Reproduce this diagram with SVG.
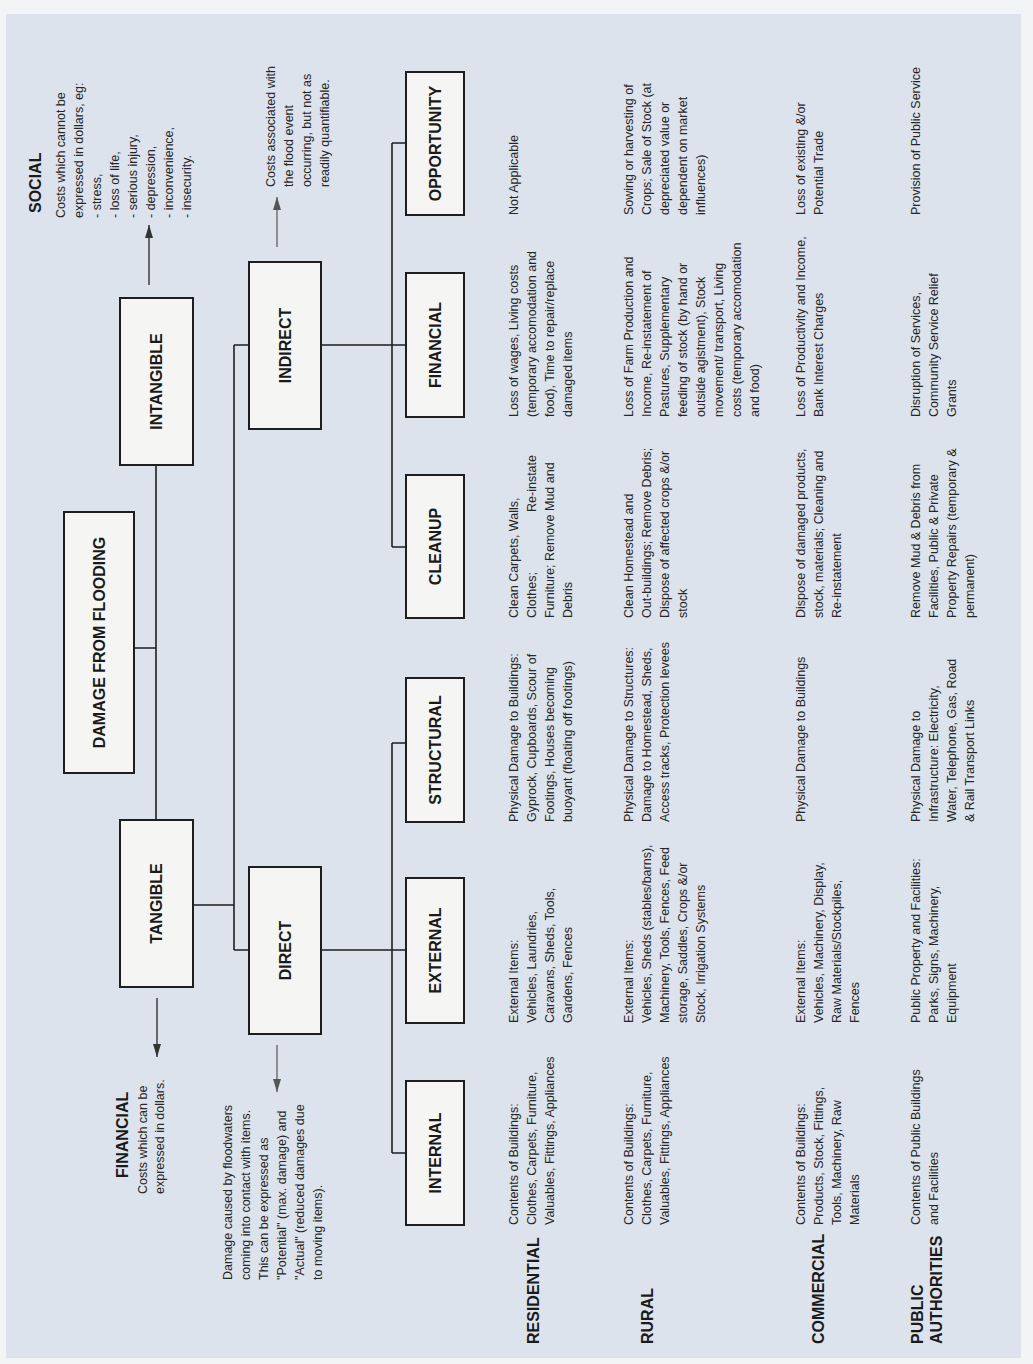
<svg xmlns="http://www.w3.org/2000/svg" width="1033" height="1364" viewBox="0 0 1033 1364">
<style>
.box{fill:#f5f5f3;stroke:#1e1e1e;stroke-width:2}
.con{fill:none;stroke:#1e1e1e;stroke-width:1.6}
.arr{fill:none;stroke:#333;stroke-width:1.4}
.arrg{fill:none;stroke:#6a6a6a;stroke-width:1.4}
.lbl{font-family:"Liberation Sans",Arial,sans-serif;font-weight:bold;font-size:16px;fill:#1a1a1a;text-anchor:middle}
.hd{font-family:"Liberation Sans",Arial,sans-serif;font-weight:bold;font-size:16px;fill:#1a1a1a}
.t{font-family:"Liberation Sans",Arial,sans-serif;font-size:12.5px;fill:#262626}
</style>
<defs>
<marker id="ah" viewBox="0 0 13 8" refX="13" refY="4" markerWidth="13" markerHeight="8" markerUnits="userSpaceOnUse" orient="auto"><path d="M0,0 L13,4 L0,8 z" fill="#333"/></marker>
<marker id="ahg" viewBox="0 0 13 8" refX="13" refY="4" markerWidth="13" markerHeight="8" markerUnits="userSpaceOnUse" orient="auto"><path d="M0,0 L13,4 L0,8 z" fill="#555"/></marker>
</defs>
<rect x="0" y="0" width="1033" height="1364" fill="#f3f4f5"/>
<rect x="6" y="14" width="1015" height="1344" fill="#dce3ed"/>

<g id="connectors">
<path class="con" d="M134 648 H156 M156 465 V820"/>
<path class="con" d="M193 905 H234 M234 345 V950 M234 345 H249 M234 950 H249"/>
<path class="con" d="M321 345 H406 M392 143 V547 M392 143 H406 M392 547 H406"/>
<path class="con" d="M321 950 H406 M392 743 V1153 M392 743 H406 M392 1153 H406"/>
<line class="arr" x1="149" y1="285" x2="149" y2="225" marker-end="url(#ah)"/>
<line class="arr" x1="157" y1="998" x2="157" y2="1057" marker-end="url(#ah)"/>
<line class="arrg" x1="277" y1="247" x2="277" y2="197" marker-end="url(#ahg)"/>
<line class="arrg" x1="277" y1="1045" x2="277" y2="1092" marker-end="url(#ahg)"/>
</g>

<g id="node-damage"><rect class="box" x="64" y="512" width="70" height="261"/><text class="lbl" transform="translate(104.7,642.5) rotate(-90)">DAMAGE FROM FLOODING</text></g>
<g id="node-intangible"><rect class="box" x="120" y="298" width="73" height="167"/><text class="lbl" transform="translate(162.2,381.5) rotate(-90)">INTANGIBLE</text></g>
<g id="node-tangible"><rect class="box" x="120" y="820" width="73" height="167"/><text class="lbl" transform="translate(162.2,903.5) rotate(-90)">TANGIBLE</text></g>
<g id="node-indirect"><rect class="box" x="249" y="262" width="72" height="167"/><text class="lbl" transform="translate(290.7,345.5) rotate(-90)">INDIRECT</text></g>
<g id="node-direct"><rect class="box" x="249" y="867" width="72" height="167"/><text class="lbl" transform="translate(290.7,950.5) rotate(-90)">DIRECT</text></g>
<g id="node-opportunity"><rect class="box" x="406" y="72" width="58" height="143"/><text class="lbl" transform="translate(440.7,143.5) rotate(-90)">OPPORTUNITY</text></g>
<g id="node-financial"><rect class="box" x="406" y="273" width="58" height="144"/><text class="lbl" transform="translate(440.7,345) rotate(-90)">FINANCIAL</text></g>
<g id="node-cleanup"><rect class="box" x="406" y="475" width="58" height="143"/><text class="lbl" transform="translate(440.7,546.5) rotate(-90)">CLEANUP</text></g>
<g id="node-structural"><rect class="box" x="406" y="678" width="58" height="144"/><text class="lbl" transform="translate(440.7,750) rotate(-90)">STRUCTURAL</text></g>
<g id="node-external"><rect class="box" x="406" y="878" width="58" height="145"/><text class="lbl" transform="translate(440.7,950.5) rotate(-90)">EXTERNAL</text></g>
<g id="node-internal"><rect class="box" x="406" y="1081" width="58" height="144"/><text class="lbl" transform="translate(440.7,1153) rotate(-90)">INTERNAL</text></g>

<g id="annotations">
<text class="hd" transform="translate(40.7,213) rotate(-90)">SOCIAL</text>
<text class="t" transform="translate(64.5,218) rotate(-90)"><tspan x="0" y="0">Costs which cannot be</tspan><tspan x="0" y="18">expressed in dollars, eg:</tspan><tspan x="0" y="36">- stress,</tspan><tspan x="0" y="54">- loss of life,</tspan><tspan x="0" y="72">- serious injury,</tspan><tspan x="0" y="90">- depression,</tspan><tspan x="0" y="108">- inconvenience,</tspan><tspan x="0" y="126">- insecurity.</tspan></text>
<text class="t" transform="translate(274.5,187) rotate(-90)"><tspan x="0" y="0">Costs associated with</tspan><tspan x="0" y="18">the flood event</tspan><tspan x="0" y="36">occurring, but not as</tspan><tspan x="0" y="54">readily quantifiable.</tspan></text>
<text class="hd" transform="translate(127.7,1178) rotate(-90)">FINANCIAL</text>
<text class="t" transform="translate(146.5,1194) rotate(-90)"><tspan x="0" y="0">Costs which can be</tspan><tspan x="0" y="17">expressed in dollars.</tspan></text>
<text class="t" transform="translate(231.5,1280) rotate(-90)"><tspan x="0" y="0">Damage caused by floodwaters</tspan><tspan x="0" y="18">coming into contact with items.</tspan><tspan x="0" y="36">This can be expressed as</tspan><tspan x="0" y="54">"Potential" (max. damage) and</tspan><tspan x="0" y="72">"Actual" (reduced damages due</tspan><tspan x="0" y="90">to moving items).</tspan></text>
</g>

<g id="row-labels">
<text class="hd" transform="translate(539,1344) rotate(-90)">RESIDENTIAL</text>
<text class="hd" transform="translate(653,1344) rotate(-90)">RURAL</text>
<text class="hd" transform="translate(824,1344) rotate(-90)">COMMERCIAL</text>
<text class="hd" transform="translate(923,1344) rotate(-90)"><tspan x="0" y="0">PUBLIC</tspan><tspan x="0" y="19">AUTHORITIES</tspan></text>
</g>

<g id="row-residential">
<text class="t" transform="translate(517.5,1225) rotate(-90)"><tspan x="0" y="0">Contents of Buildings:</tspan><tspan x="0" y="18">Clothes, Carpets, Furniture,</tspan><tspan x="0" y="36">Valuables, Fittings, Appliances</tspan></text>
<text class="t" transform="translate(517.5,1023) rotate(-90)"><tspan x="0" y="0">External Items:</tspan><tspan x="0" y="18">Vehicles, Laundries,</tspan><tspan x="0" y="36">Caravans, Sheds, Tools,</tspan><tspan x="0" y="54">Gardens, Fences</tspan></text>
<text class="t" transform="translate(517.5,822) rotate(-90)"><tspan x="0" y="0">Physical Damage to Buildings:</tspan><tspan x="0" y="18">Gyprock, Cupboards, Scour of</tspan><tspan x="0" y="36">Footings, Houses becoming</tspan><tspan x="0" y="54">buoyant (floating off footings)</tspan></text>
<text class="t" transform="translate(517.5,618) rotate(-90)"><tspan x="0" y="0">Clean Carpets, Walls,</tspan><tspan x="0" y="18">Clothes;</tspan><tspan x="163" y="18" text-anchor="end">Re-instate</tspan><tspan x="0" y="36">Furniture; Remove Mud and</tspan><tspan x="0" y="54">Debris</tspan></text>
<text class="t" transform="translate(517.5,417) rotate(-90)"><tspan x="0" y="0">Loss of wages, Living costs</tspan><tspan x="0" y="18">(temporary accomodation and</tspan><tspan x="0" y="36">food), Time to repair/replace</tspan><tspan x="0" y="54">damaged items</tspan></text>
<text class="t" transform="translate(517.5,215) rotate(-90)">Not Applicable</text>
</g>

<g id="row-rural">
<text class="t" transform="translate(632.5,1225) rotate(-90)"><tspan x="0" y="0">Contents of Buildings:</tspan><tspan x="0" y="18">Clothes, Carpets, Furniture,</tspan><tspan x="0" y="36">Valuables, Fittings, Appliances</tspan></text>
<text class="t" transform="translate(632.5,1023) rotate(-90)"><tspan x="0" y="0">External Items:</tspan><tspan x="0" y="18">Vehicles, Sheds (stables/barns),</tspan><tspan x="0" y="36">Machinery, Tools, Fences, Feed</tspan><tspan x="0" y="54">storage, Saddles, Crops &amp;/or</tspan><tspan x="0" y="72">Stock, Irrigation Systems</tspan></text>
<text class="t" transform="translate(632.5,822) rotate(-90)"><tspan x="0" y="0">Physical Damage to Structures:</tspan><tspan x="0" y="18">Damage to Homestead, Sheds,</tspan><tspan x="0" y="36">Access tracks, Protection levees</tspan></text>
<text class="t" transform="translate(632.5,618) rotate(-90)"><tspan x="0" y="0">Clean Homestead and</tspan><tspan x="0" y="18">Out-buildings; Remove Debris;</tspan><tspan x="0" y="36">Dispose of affected crops &amp;/or</tspan><tspan x="0" y="54">stock</tspan></text>
<text class="t" transform="translate(632.5,417) rotate(-90)"><tspan x="0" y="0">Loss of Farm Production and</tspan><tspan x="0" y="18">Income, Re-instatement of</tspan><tspan x="0" y="36">Pastures, Supplementary</tspan><tspan x="0" y="54">feeding of stock (by hand or</tspan><tspan x="0" y="72">outside agistment), Stock</tspan><tspan x="0" y="90">movement/ transport, Living</tspan><tspan x="0" y="108">costs (temporary accomodation</tspan><tspan x="0" y="126">and food)</tspan></text>
<text class="t" transform="translate(632.5,215) rotate(-90)"><tspan x="0" y="0">Sowing or harvesting of</tspan><tspan x="0" y="18">Crops; Sale of Stock (at</tspan><tspan x="0" y="36">depreciated value or</tspan><tspan x="0" y="54">dependent on market</tspan><tspan x="0" y="72">influences)</tspan></text>
</g>

<g id="row-commercial">
<text class="t" transform="translate(804.5,1225) rotate(-90)"><tspan x="0" y="0">Contents of Buildings:</tspan><tspan x="0" y="18">Products, Stock, Fittings,</tspan><tspan x="0" y="36">Tools, Machinery, Raw</tspan><tspan x="0" y="54">Materials</tspan></text>
<text class="t" transform="translate(804.5,1023) rotate(-90)"><tspan x="0" y="0">External Items:</tspan><tspan x="0" y="18">Vehicles, Machinery, Display,</tspan><tspan x="0" y="36">Raw Materials/Stockpiles,</tspan><tspan x="0" y="54">Fences</tspan></text>
<text class="t" transform="translate(804.5,822) rotate(-90)">Physical Damage to Buildings</text>
<text class="t" transform="translate(804.5,618) rotate(-90)"><tspan x="0" y="0">Dispose of damaged products,</tspan><tspan x="0" y="18">stock, materials; Cleaning and</tspan><tspan x="0" y="36">Re-instatement</tspan></text>
<text class="t" transform="translate(804.5,417) rotate(-90)"><tspan x="0" y="0">Loss of Productivity and Income,</tspan><tspan x="0" y="18">Bank Interest Charges</tspan></text>
<text class="t" transform="translate(804.5,215) rotate(-90)"><tspan x="0" y="0">Loss of existing &amp;/or</tspan><tspan x="0" y="18">Potential Trade</tspan></text>
</g>

<g id="row-public">
<text class="t" transform="translate(919.5,1225) rotate(-90)"><tspan x="0" y="0">Contents of Public Buildings</tspan><tspan x="0" y="18">and Facilities</tspan></text>
<text class="t" transform="translate(919.5,1023) rotate(-90)"><tspan x="0" y="0">Public Property and Facilities:</tspan><tspan x="0" y="18">Parks, Signs, Machinery,</tspan><tspan x="0" y="36">Equipment</tspan></text>
<text class="t" transform="translate(919.5,822) rotate(-90)"><tspan x="0" y="0">Physical Damage to</tspan><tspan x="0" y="18">Infrastructure: Electricity,</tspan><tspan x="0" y="36">Water, Telephone, Gas, Road</tspan><tspan x="0" y="54">&amp; Rail Transport Links</tspan></text>
<text class="t" transform="translate(919.5,618) rotate(-90)"><tspan x="0" y="0">Remove Mud &amp; Debris from</tspan><tspan x="0" y="18">Facilities, Public &amp; Private</tspan><tspan x="0" y="36">Property Repairs (temporary &amp;</tspan><tspan x="0" y="54">permanent)</tspan></text>
<text class="t" transform="translate(919.5,417) rotate(-90)"><tspan x="0" y="0">Disruption of Services,</tspan><tspan x="0" y="18">Community Service Relief</tspan><tspan x="0" y="36">Grants</tspan></text>
<text class="t" transform="translate(919.5,215) rotate(-90)">Provision of Public Service</text>
</g>
</svg>
